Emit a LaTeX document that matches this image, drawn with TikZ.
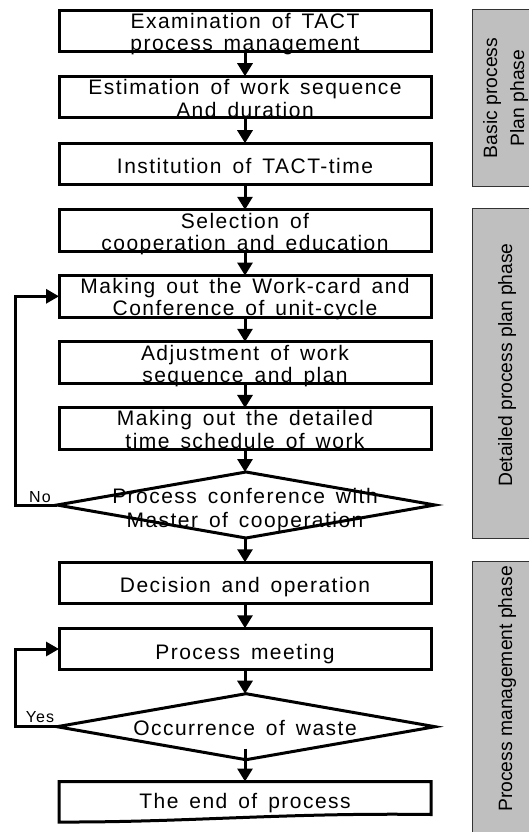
\documentclass[tikz,border=0pt]{standalone}
\usepackage{fontspec}
\setmainfont{Liberation Sans}
\newfontfamily\flowfont[LetterSpace=7,WordSpace=1.5]{Liberation Sans}
\usetikzlibrary{arrows.meta,shapes.geometric,calc}

\begin{document}
\begin{tikzpicture}[x=1pt,y=-1pt,
  box/.style={draw, line width=3pt, minimum width=372pt, minimum height=41.5pt, inner sep=0pt, outer sep=0pt},
  decision/.style={draw, line width=3pt, diamond, minimum width=378pt, minimum height=66pt, inner sep=0pt, outer sep=0pt},
  txt/.style={font=\flowfont\fontsize{21}{22}\selectfont, inner sep=0pt, anchor=base},
  small/.style={font=\flowfont\fontsize{16}{18}\selectfont, inner sep=0pt, anchor=base},
  flow/.style={line width=3pt, -{Triangle[width=15pt,length=13pt]}},
  back/.style={line width=3pt, -{Triangle[width=14pt,length=13pt]}},
  phase/.style={draw=black!80, line width=0.8pt, fill=black!25, anchor=north west, inner sep=0pt, minimum width=70pt},
  phasetxt/.style={font=\fontsize{19.3}{24}\selectfont, inner sep=0pt, anchor=base, rotate=90},
]
\useasboundingbox (0,0) rectangle (528,832);

% phase panels on the right
\node[phase, minimum height=176.7pt] (p1) at (472,9.3) {};
\node[phase, minimum height=330pt] (p2) at (472,208) {};
\node[phase, minimum height=280pt] (p3) at (472,561) {};
\node[phasetxt] (p1a) at (497,98) {Basic process};
\node[phasetxt] (p1b) at (524,98) {Plan phase};
\node[phasetxt] (p2a) at (512,365) {Detailed process plan phase};
\node[phasetxt] (p3a) at (512,689) {Process management phase};

% process boxes
\node[box] (b1) at (245,31) {};
\node[box] (b2) at (245,97) {};
\node[box] (b3) at (245,164) {};
\node[box] (b4) at (245,230.5) {};
\node[box] (b5) at (245,296.3) {};
\node[box] (b6) at (245,362.5) {};
\node[box] (b7) at (245,428.7) {};
\node[decision] (d1) at (246,505) {};
\node[box] (b8) at (245,583) {};
\node[box] (b9) at (245,649) {};
\node[decision] (d2) at (246,726.7) {};
\node[inner sep=0pt, outer sep=0pt, minimum width=372pt, minimum height=37pt] (b10) at (245,800) {};
\draw[line width=3pt] (b10.north west) -- (b10.north east)
  -- ($(b10.south east)+(0,-4)$)
  .. controls ($(b10.south)+(40,-6)$) and ($(b10.south)+(-60,4)$) .. ($(b10.south west)+(0,3.5)$)
  -- cycle;

% box texts
\node[txt] (t1a) at ($(b1.center)+(0,-2.5)$) {Examination of TACT};
\node[txt] (t1b) at ($(b1.center)+(0,19.5)$) {process management};
\node[txt] (t2a) at ($(b2.center)+(0,-2.5)$) {Estimation of work sequence};
\node[txt] (t2b) at ($(b2.center)+(0,20.5)$) {And duration};
\node[txt] (t3) at ($(b3.center)+(0,9)$) {Institution of TACT-time};
\node[txt] (t4a) at ($(b4.center)+(0,-2.5)$) {Selection of};
\node[txt] (t4b) at ($(b4.center)+(0,19.5)$) {cooperation and education};
\node[txt] (t5a) at ($(b5.center)+(0,-3)$) {Making out the Work-card and};
\node[txt] (t5b) at ($(b5.center)+(0,19)$) {Conference of unit-cycle};
\node[txt] (t6a) at ($(b6.center)+(0,-2.5)$) {Adjustment of work};
\node[txt] (t6b) at ($(b6.center)+(0,19.5)$) {sequence and plan};
\node[txt] (t7a) at ($(b7.center)+(0,-3)$) {Making out the detailed};
\node[txt] (t7b) at ($(b7.center)+(0,19.5)$) {time schedule of work};
\node[txt] (t8a) at ($(d1.center)+(-1,-2)$) {Process conference with};
\node[txt] (t8b) at ($(d1.center)+(-1,22)$) {Master of cooperation};
\node[txt] (t9) at ($(b8.center)+(0,9)$) {Decision and operation};
\node[txt] (t10) at ($(b9.center)+(0,10)$) {Process meeting};
\node[txt] (t11) at ($(d2.center)+(-1,8.5)$) {Occurrence of waste};
\node[txt] (t12) at ($(b10.center)+(0,8)$) {The end of process};

% main flow
\draw[flow] (b1) -- (b2);
\draw[flow] (b2) -- (b3);
\draw[flow] (b3) -- (b4);
\draw[flow] (b4) -- (b5);
\draw[flow] (b5) -- (b6);
\draw[flow] (b6) -- (b7);
\draw[flow] (b7.south) -- (b7.south |- d1.north);
\draw[flow] (b8.north |- d1.south) -- (b8.north);
\draw[flow] (b8) -- (b9);
\draw[flow] (b9.south) -- (b9.south |- d2.north);
\draw[flow] ($(b10.north |- d2.south)+(0,-11)$) -- (b10.north);

% feedback loops
\coordinate (rail) at (15,0);
\draw[back] (d1.west) -- (d1.west -| rail) |- (b5.west);
\draw[back] (d2.west) -- (d2.west -| rail) |- (b9.west);
\node[small] (no) at (40,502) {No};
\node[small] (yes) at (40,722.5) {Yes};
\end{tikzpicture}
\end{document}
